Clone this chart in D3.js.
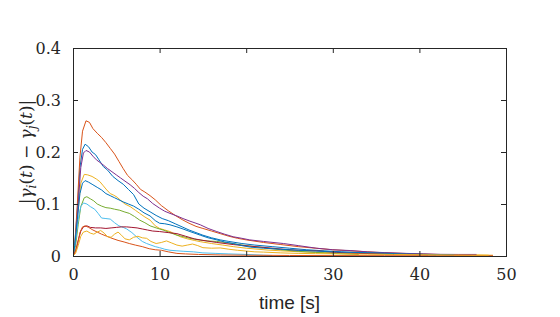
<!DOCTYPE html>
<html>
<head>
<meta charset="utf-8">
<script src="https://cdn.jsdelivr.net/npm/d3@7"></script>
<style>
  html, body { margin: 0; padding: 0; background: #fff; }
  svg { display: block; }
  .serif { font-family: "DejaVu Serif", "Noto Serif", "Times New Roman", Times, "Liberation Serif", serif; }
</style>
</head>
<body>
<svg id="chart" width="560" height="317"></svg>
<script>
// ---------------- data ----------------
const xTicks = [0, 10, 20, 30, 40, 50];
const yTicks = [0, 0.1, 0.2, 0.3, 0.4];
const xDomain = [0, 50];
const yDomain = [0, 0.4];
const xLabel = "time [s]";

const seriesColors = ["#0072BD", "#D95319", "#EDB120", "#7E2F8E", "#77AC30",
                      "#4DBEEE", "#A2142F", "#0072BD", "#D95319", "#EDB120"];

const blue1 = [[0,0],[0.2,0.02],[0.5,0.09],[0.8,0.17],[1.1,0.205],[1.4,0.215],[1.8,0.21],[2.2,0.2],[2.6,0.195],[3.0,0.185],[3.5,0.172],[4.0,0.165],[4.6,0.153],[5.2,0.145],[5.8,0.138],[6.4,0.128],[7.0,0.118],[7.6,0.1],[8.2,0.092],[8.9,0.085],[9.6,0.078],[10.3,0.072],[11,0.068],[11.8,0.062],[12.6,0.056],[13.4,0.05],[14.2,0.045],[15,0.04],[16,0.035],[17,0.031],[18,0.028],[19.5,0.024],[21,0.021],[23,0.018],[25,0.015],[27,0.012],[29,0.01],[31,0.008],[34,0.006],[37,0.004],[40,0.003],[42,0.002]];
const orange1 = [[0,0],[0.2,0.02],[0.5,0.1],[0.8,0.19],[1.1,0.24],[1.5,0.26],[1.9,0.257],[2.3,0.245],[2.8,0.236],[3.3,0.228],[3.8,0.218],[4.3,0.207],[4.8,0.196],[5.3,0.182],[5.8,0.168],[6.3,0.155],[6.8,0.147],[7.3,0.138],[7.8,0.128],[8.3,0.123],[8.9,0.116],[9.5,0.108],[10.2,0.097],[11,0.087],[11.8,0.078],[12.6,0.07],[13.4,0.063],[14.2,0.057],[15,0.053],[16,0.048],[17,0.043],[18,0.038],[19,0.034],[20,0.031],[22,0.026],[24,0.022],[26,0.018],[28,0.015],[30,0.012],[32,0.01],[35,0.007],[38,0.005],[42,0.003],[46,0.002]];
const yellow1 = [[0,0],[0.3,0.03],[0.6,0.09],[0.9,0.14],[1.3,0.157],[1.7,0.156],[2.2,0.153],[2.7,0.148],[3.1,0.143],[3.5,0.135],[3.9,0.127],[4.3,0.12],[4.7,0.117],[5.1,0.113],[5.5,0.107],[6.0,0.1],[6.6,0.095],[7.2,0.088],[7.7,0.082],[8.3,0.075],[8.9,0.069],[9.5,0.058],[10,0.053],[10.6,0.05],[11.2,0.047],[11.8,0.042],[12.4,0.037],[13.2,0.033],[14,0.03],[14.7,0.0275],[16,0.024],[17.3,0.021],[18.5,0.018],[20,0.015],[22.4,0.0115],[24,0.01],[26.2,0.008],[29,0.0065],[32,0.0055],[35,0.0045],[38,0.0038],[41,0.003],[44,0.0022],[46,0.002],[48.5,0.0015]];
const purple1 = [[0,0],[0.3,0.03],[0.6,0.1],[0.9,0.17],[1.2,0.198],[1.5,0.203],[1.9,0.2],[2.3,0.192],[2.7,0.185],[3.1,0.18],[3.5,0.175],[4.0,0.168],[4.5,0.162],[5.0,0.156],[5.5,0.15],[6.0,0.144],[6.6,0.137],[7.1,0.13],[7.6,0.122],[8.1,0.115],[8.6,0.11],[9.2,0.101],[10,0.092],[10.6,0.086],[11.2,0.082],[12,0.077],[12.7,0.072],[13.5,0.067],[14.2,0.063],[14.7,0.06],[15.6,0.053],[16.6,0.047],[17.5,0.042],[18.5,0.037],[19.5,0.034],[20.4,0.031],[22,0.028],[24.3,0.024],[26,0.02],[28.1,0.015],[30,0.012],[32,0.0105],[34,0.008],[36,0.0065],[38.5,0.005],[40.5,0.004],[42.4,0.0032],[44.5,0.003],[46.6,0.003]];
const green1 = [[0,0],[0.3,0.02],[0.6,0.06],[0.9,0.095],[1.3,0.112],[1.6,0.114],[2.0,0.11],[2.4,0.106],[2.8,0.1],[3.3,0.096],[3.8,0.093],[4.3,0.092],[4.8,0.09],[5.4,0.088],[5.9,0.085],[6.5,0.082],[7.1,0.076],[7.7,0.069],[8.3,0.064],[8.9,0.058],[9.6,0.054],[10.4,0.05],[11.2,0.045],[12,0.04],[12.8,0.037],[13.5,0.034],[14.5,0.031],[15.5,0.029],[16.6,0.028],[18,0.025],[20,0.02],[22,0.016],[24,0.012],[26,0.009],[28,0.007],[30,0.005],[33,0.003]];
const lightblue1 = [[0,0],[0.3,0.03],[0.6,0.07],[0.9,0.095],[1.2,0.102],[1.6,0.1],[2.0,0.095],[2.5,0.09],[2.9,0.082],[3.3,0.073],[3.8,0.072],[4.3,0.071],[4.8,0.064],[5.3,0.058],[5.8,0.055],[6.2,0.052],[6.8,0.045],[7.4,0.036],[8.0,0.028],[8.5,0.024],[9.0,0.021],[9.5,0.018],[10,0.016],[10.6,0.013],[11.2,0.011],[12,0.01],[12.8,0.009],[13.9,0.008],[15,0.006],[16.5,0.005],[18,0.004],[20,0.003],[22,0.0015],[23,0.001]];
const darkred1 = [[0,0],[0.3,0.01],[0.6,0.03],[0.9,0.048],[1.2,0.056],[1.6,0.058],[2.0,0.055],[2.6,0.054],[3.2,0.054],[3.8,0.053],[4.4,0.054],[5.0,0.055],[5.6,0.056],[6.2,0.056],[6.8,0.055],[7.4,0.054],[8.0,0.052],[8.6,0.05],[9.2,0.048],[10,0.047],[11,0.045],[12,0.043],[13,0.038],[14,0.033],[15,0.03],[16.6,0.026],[18.5,0.022],[20.4,0.019],[22.4,0.016],[24.3,0.013],[26,0.011],[28.1,0.01],[30.4,0.007],[33,0.005],[36,0.004],[38,0.003],[41,0.002]];
const blue2 = [[0,0],[0.2,0.02],[0.5,0.07],[0.8,0.12],[1.1,0.14],[1.4,0.145],[1.8,0.142],[2.3,0.137],[2.8,0.132],[3.3,0.127],[3.8,0.12],[4.3,0.116],[4.8,0.112],[5.3,0.108],[5.8,0.104],[6.4,0.1],[7.0,0.096],[7.6,0.09],[8.2,0.083],[8.9,0.077],[9.5,0.068],[10,0.063],[10.6,0.062],[11.2,0.06],[12,0.056],[12.7,0.052],[13.5,0.047],[14.2,0.043],[14.7,0.04],[15.6,0.035],[16.6,0.031],[17.5,0.027],[18.5,0.024],[19.5,0.02],[20.5,0.017],[22,0.015],[24,0.013],[26,0.011],[28,0.0095],[30,0.008],[32,0.007],[35,0.006],[38,0.004],[41,0.003],[44,0.002]];
const orange2 = [[0,0],[0.2,0.005],[0.5,0.02],[0.8,0.045],[1.1,0.056],[1.4,0.058],[1.8,0.055],[2.3,0.05],[2.8,0.046],[3.3,0.042],[3.9,0.038],[4.5,0.034],[5.2,0.03],[5.9,0.027],[6.5,0.024],[7.2,0.021],[8.0,0.018],[8.8,0.014],[9.5,0.012],[10.2,0.011],[11,0.008],[12,0.005],[13,0.004],[14.5,0.003],[17,0.002],[20,0.0015],[25,0.001],[30,0.0008],[36,0.0006],[42,0.0005],[48.5,0.0004]];
const yellow2 = [[0,0],[0.3,0.005],[0.6,0.02],[0.9,0.038],[1.2,0.046],[1.6,0.048],[2.0,0.044],[2.4,0.042],[2.8,0.046],[3.2,0.049],[3.6,0.044],[4.0,0.037],[4.4,0.036],[4.8,0.042],[5.2,0.046],[5.6,0.04],[6.0,0.033],[6.5,0.031],[7.0,0.036],[7.5,0.038],[8.0,0.035],[8.5,0.034],[9.0,0.028],[9.6,0.024],[10.2,0.026],[10.8,0.029],[11.4,0.025],[12,0.021],[12.6,0.019],[13.2,0.021],[13.8,0.023],[14.4,0.02],[15,0.016],[16,0.015],[17,0.0155],[18,0.013],[19,0.011],[20,0.0095],[21,0.008],[22,0.0075],[24,0.006],[26,0.005],[28,0.0045],[31,0.004],[34,0.0035],[37,0.003],[40,0.0025],[44,0.002],[48,0.0015]];

const allSeries = [blue1, orange1, yellow1, purple1, green1, lightblue1, darkred1, blue2, orange2, yellow2];

// ---------------- layout ----------------
const W = 560, H = 317;
const margin = { left: 73, right: 54, top: 48, bottom: 61 };
const pw = W - margin.left - margin.right;
const ph = H - margin.top - margin.bottom;
const axisColor = "#262626";
const sansFam = "'Liberation Sans', Arial, Helvetica, sans-serif";

const svg = d3.select("#chart");
const g = svg.append("g").attr("transform", `translate(${margin.left},${margin.top})`);

const x = d3.scaleLinear().domain(xDomain).range([0, pw]);
const y = d3.scaleLinear().domain(yDomain).range([ph, 0]);

svg.append("defs").append("clipPath").attr("id", "plotclip")
  .append("rect").attr("x", 0).attr("y", -1).attr("width", pw).attr("height", ph + 1);

// lines
const line = d3.line().x(d => x(d[0])).y(d => y(d[1]));
const lines = g.append("g").attr("clip-path", "url(#plotclip)");
allSeries.forEach((s, i) => {
  lines.append("path")
    .attr("d", line(s))
    .attr("fill", "none")
    .attr("stroke", seriesColors[i])
    .attr("stroke-width", 1)
    .attr("stroke-linejoin", "round");
});

// axes (ticks inward)
const tickLen = 5;
const xAxisB = d3.axisBottom(x).tickValues(xTicks).tickSize(-tickLen).tickPadding(tickLen + 8).tickFormat(d3.format("d"));
const xAxisT = d3.axisTop(x).tickValues(xTicks).tickSize(-tickLen).tickFormat("");
const yAxisL = d3.axisLeft(y).tickValues(yTicks).tickSize(-tickLen).tickPadding(tickLen + 7).tickFormat(d => d === 0 ? "0" : d3.format(".1f")(d));
const yAxisR = d3.axisRight(y).tickValues(yTicks).tickSize(-tickLen).tickFormat("");

function styleAxis(sel) {
  sel.attr("font-family", null).attr("font-size", null).attr("class", "serif").style("font-size", "16px");
  sel.select(".domain").remove();
  sel.selectAll(".tick line").attr("stroke", axisColor).attr("stroke-width", 1);
  sel.selectAll("text").attr("fill", axisColor);
}
g.append("g").attr("transform", `translate(0,${ph})`).call(xAxisB).call(styleAxis);
g.append("g").call(xAxisT).call(styleAxis);
g.append("g").call(yAxisL).call(styleAxis);
g.append("g").attr("transform", `translate(${pw},0)`).call(yAxisR).call(styleAxis);

// frame
g.append("rect")
  .attr("x", 0.5).attr("y", 0.5).attr("width", pw).attr("height", ph)
  .attr("fill", "none").attr("stroke", axisColor).attr("stroke-width", 1);

// x label
svg.append("text")
  .attr("x", margin.left + pw / 2).attr("y", 309)
  .attr("text-anchor", "middle")
  .attr("fill", axisColor)
  .style("font-family", sansFam).style("font-size", "19px")
  .text(xLabel);

// y label  |γ_i(t) − γ_j(t)|
const yl = svg.append("text")
  .attr("transform", `translate(32,${margin.top + ph / 2}) rotate(-90)`)
  .attr("text-anchor", "middle")
  .attr("fill", axisColor)
  .attr("class", "serif")
  .style("font-size", "17px");
const parts = [
  { t: "|" },
  { t: "γ", i: true },
  { t: "i", i: true, sub: true },
  { t: "(" , back: true },
  { t: "t", i: true },
  { t: ")" },
  { t: " − " },
  { t: "γ", i: true },
  { t: "j", i: true, sub: true },
  { t: "(", back: true },
  { t: "t", i: true },
  { t: ")|" }
];
parts.forEach(p => {
  const ts = yl.append("tspan").text(p.t);
  if (p.i) ts.style("font-style", "italic");
  if (p.sub) ts.attr("dy", 4).style("font-size", "12px");
  if (p.back) ts.attr("dy", -4);
});
</script>
</body>
</html>
